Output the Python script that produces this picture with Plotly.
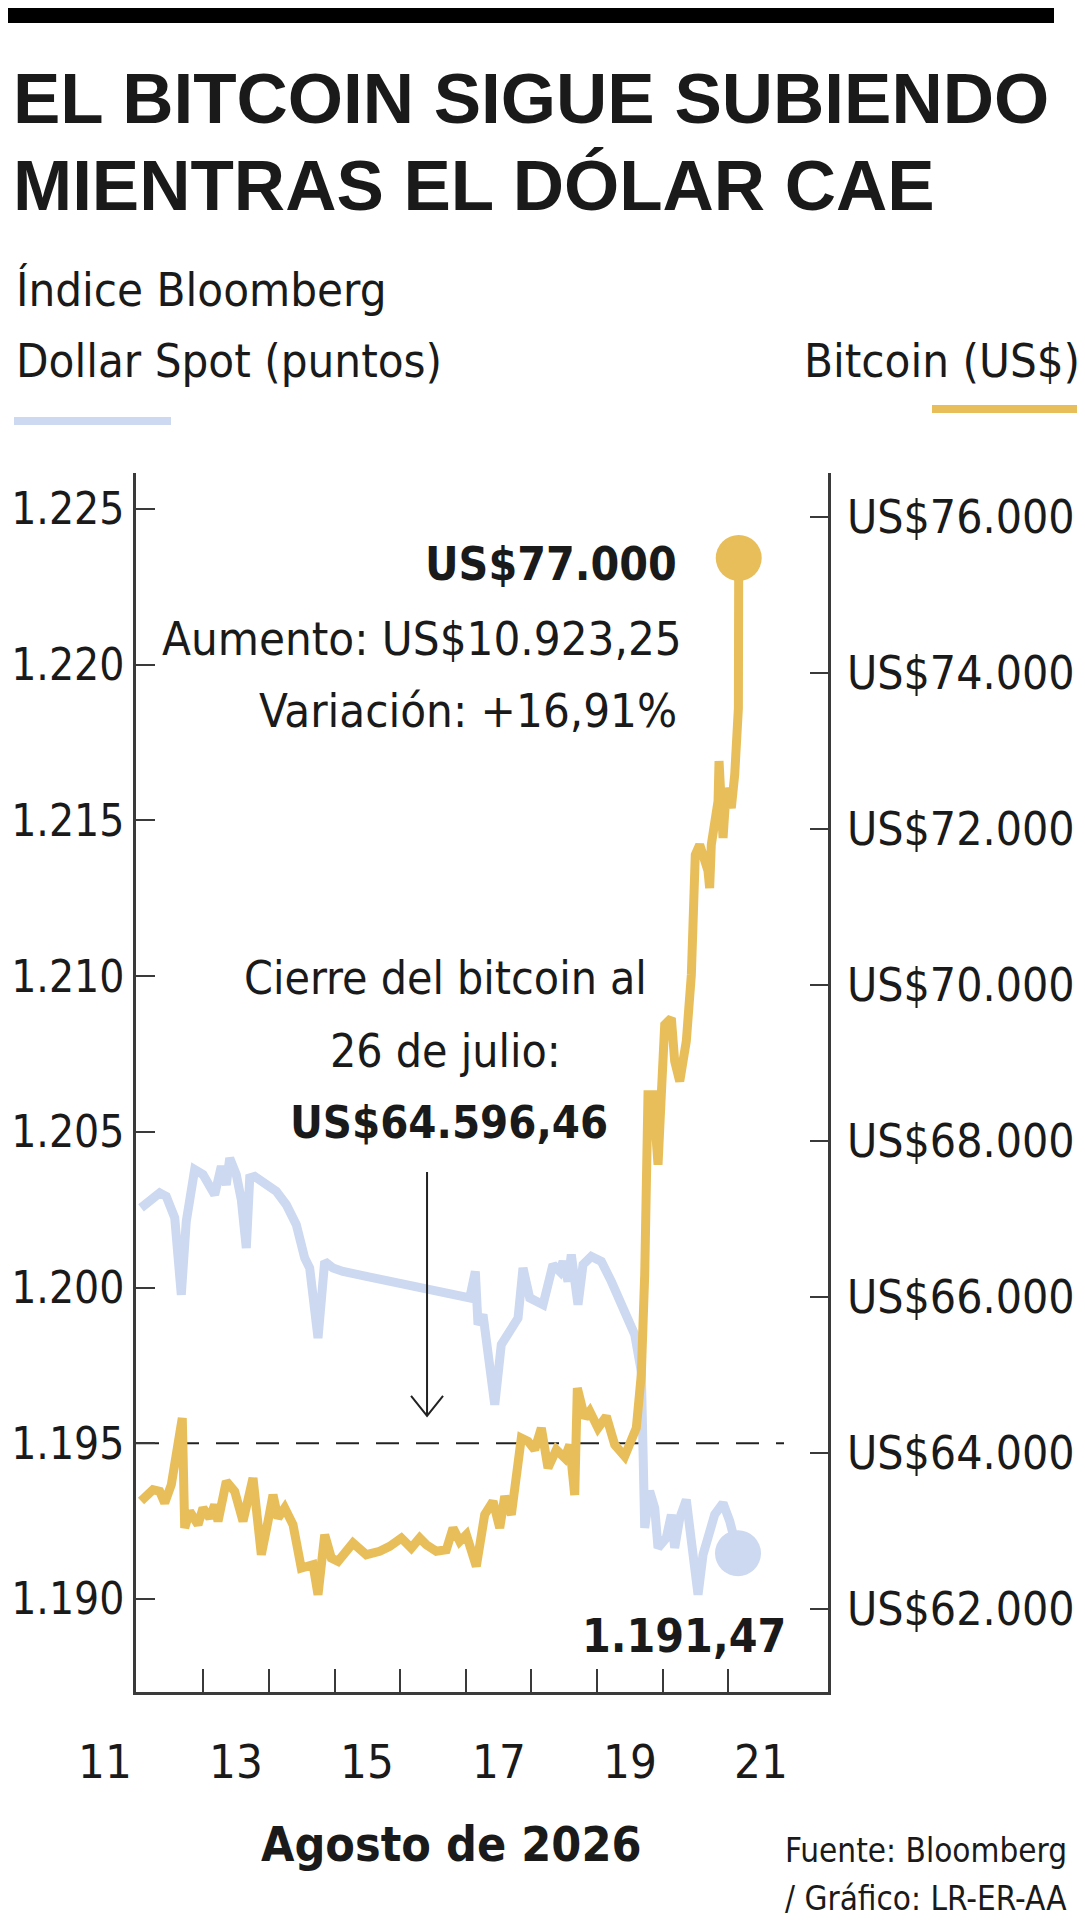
import plotly.graph_objects as go

# Indice Bloomberg Dollar Spot (eje izq) - dias de agosto 2026 en fraccion
dollar_days = [11.549, 11.834, 11.934, 12.063, 12.163, 12.239, 12.367, 12.494, 12.672, 12.773,
               12.849, 12.901, 13.001, 13.078, 13.154, 13.206, 13.282, 13.611, 13.764, 13.916,
               14.044, 14.120, 14.247, 14.349, 14.476, 14.628, 14.983, 16.560, 16.645, 16.686,
               16.762, 16.941, 17.041, 17.296, 17.372, 17.474, 17.677, 17.829, 17.931, 17.982,
               18.058, 18.108, 18.210, 18.287, 18.413, 18.566, 18.718, 18.871, 19.075, 19.175,
               19.201, 19.227, 19.302, 19.380, 19.430, 19.556, 19.633, 19.684, 19.761, 19.861,
               19.938, 20.040, 20.116, 20.192, 20.294, 20.421, 20.523, 20.649]
dollar_vals = [1.20256, 1.20304, 1.20293, 1.20224, 1.19977, 1.20213, 1.20379, 1.20363, 1.20298, 1.20390,
               1.20330, 1.20416, 1.20363, 1.20282, 1.20127, 1.20352, 1.20357, 1.20309, 1.20266, 1.20202,
               1.20095, 1.20063, 1.19838, 1.20084, 1.20063, 1.20052, 1.20036, 1.19967, 1.20052, 1.19881,
               1.19913, 1.19624, 1.19817, 1.19902, 1.20063, 1.19967, 1.19945, 1.20074, 1.20052, 1.20084,
               1.20020, 1.20106, 1.19945, 1.20074, 1.20100, 1.20084, 1.20020, 1.19945, 1.19849, 1.19731,
               1.19346, 1.19228, 1.19347, 1.19292, 1.19164, 1.19196, 1.19271, 1.19164, 1.19260, 1.19319,
               1.19186, 1.19014, 1.19142, 1.19206, 1.19271, 1.19308, 1.19250, 1.19147]

# Bitcoin en US$ (eje der)
btc_days = [11.549, 11.732, 11.834, 11.910, 12.011, 12.063, 12.178, 12.215, 12.291, 12.418,
            12.494, 12.596, 12.672, 12.723, 12.849, 12.977, 13.104, 13.256, 13.383, 13.485,
            13.561, 13.637, 13.739, 13.866, 13.992, 14.171, 14.247, 14.349, 14.450, 14.552,
            14.780, 14.983, 15.187, 15.340, 15.517, 15.669, 15.797, 15.898, 16.050, 16.203,
            16.305, 16.407, 16.508, 16.660, 16.788, 16.915, 17.017, 17.093, 17.194, 17.346,
            17.448, 17.550, 17.651, 17.753, 17.880, 18.008, 18.084, 18.160, 18.200, 18.313,
            18.389, 18.515, 18.642, 18.770, 18.922, 19.099, 19.175, 19.227, 19.267, 19.277,
            19.354, 19.430, 19.480, 19.532, 19.633, 19.684, 19.761, 19.861, 19.938, 19.963,
            19.998, 20.065, 20.192, 20.217, 20.242, 20.345, 20.360, 20.421, 20.471, 20.547,
            20.599, 20.655, 20.665, 20.660]
btc_vals = [63385, 63530, 63509, 63359, 63594, 63850, 64449, 63039, 63253, 63081,
            63295, 63167, 63337, 63124, 63637, 63509, 63124, 63680, 62696, 63124,
            63465, 63167, 63295, 63081, 62526, 62568, 62183, 62953, 62654, 62612,
            62846, 62696, 62740, 62804, 62910, 62782, 62910, 62824, 62740, 62760,
            63039, 62868, 62953, 62547, 63209, 63381, 63039, 63445, 63209, 64192,
            64150, 64042, 64321, 63808, 64042, 63936, 64106, 63462, 64833, 64449,
            64535, 64321, 64471, 64106, 63958, 64321, 65004, 66286, 67568, 68594,
            68594, 67696, 68594, 69491, 69577, 69022, 68766, 69279, 70132, 71158,
            71671, 71799, 71462, 71244, 71799, 72356, 72872, 71885, 72526, 72270,
            72697, 73552, 74834, 75475]

left_ticks = [1.190, 1.195, 1.200, 1.205, 1.210, 1.215, 1.220, 1.225]
left_labels = ["1.190", "1.195", "1.200", "1.205", "1.210", "1.215", "1.220", "1.225"]
right_ticks = [62000, 64000, 66000, 68000, 70000, 72000, 74000, 76000]
right_labels = ["US$62.000", "US$64.000", "US$66.000", "US$68.000",
                "US$70.000", "US$72.000", "US$74.000", "US$76.000"]
day_labels = [11, 13, 15, 17, 19, 21]
day_ticks = [12.5, 13.5, 14.5, 15.5, 16.5, 17.5, 18.5, 19.5, 20.5]
ref_level = 1.195          # linea punteada
ref_arrow_day = 15.909

BLUE = "#cdd9f0"
GOLD = "#e8be5a"
INK = "#1a1a1a"
AXIS = "#3a3a3a"
NARROW = "Liberation Sans Narrow, DejaVu Sans Condensed, sans-serif"
WIDE = "Liberation Sans, Arial, sans-serif"

W, H = 1085, 1920
L, R, T, B = 128, 820, 465, 1684
XR = [11.4726, 22.021]


def px(x):
    return (x - L) / (R - L)


def py(y):
    return (B - y) / (B - T)


def text(s, x, y, size, xanchor="center", bold=False, family=NARROW):
    return dict(text=s, x=px(x), y=py(y), xref="paper", yref="paper",
                xanchor=xanchor, yanchor="middle", showarrow=False,
                font=dict(family=family, size=size, color=INK,
                          weight="bold" if bold else "normal"))


fig = go.Figure()
fig.add_trace(go.Scatter(x=dollar_days, y=dollar_vals, mode="lines",
                         line=dict(color=BLUE, width=9), hoverinfo="skip"))
fig.add_trace(go.Scatter(x=btc_days, y=btc_vals, mode="lines", yaxis="y2",
                         line=dict(color=GOLD, width=9), hoverinfo="skip"))
fig.add_trace(go.Scatter(x=[dollar_days[-1]], y=[dollar_vals[-1]], mode="markers",
                         marker=dict(color=BLUE, size=46), cliponaxis=False, hoverinfo="skip"))
fig.add_trace(go.Scatter(x=[btc_days[-1]], y=[btc_vals[-1]], mode="markers", yaxis="y2",
                         marker=dict(color=GOLD, size=46), cliponaxis=False, hoverinfo="skip"))

annotations = [
    text("EL BITCOIN SIGUE SUBIENDO", 3, 91, 71, "left", True, WIDE),
    text("MIENTRAS EL DÓLAR CAE", 3, 178, 71, "left", True, WIDE),
    text("Índice Bloomberg", 6, 281, 47, "left"),
    text("Dollar Spot (puntos)", 6, 352, 47, "left"),
    text("Bitcoin (US$)", 1074, 352, 47, "right"),
    text("US$77.000", 671, 556, 46, "right", True),
    text("Aumento: US$10.923,25", 676, 630, 47, "right"),
    text("Variación: +16,91%", 671, 702, 47, "right"),
    text("Cierre del bitcoin al", 437, 970, 46),
    text("26 de julio:", 437, 1043, 46),
    text("US$64.596,46", 441, 1114, 45, bold=True),
    text("1.191,47", 780, 1628, 46, "right", True),
    text("Agosto de 2026", 443, 1836, 48, bold=True),
    text("Fuente: Bloomberg", 775, 1842, 33, "left"),
    text("/ Gráfico: LR-ER-AA", 775, 1890, 33, "left"),
]
for d in day_labels:
    annotations.append(dict(text=str(d), x=(d - XR[0]) / (XR[1] - XR[0]), y=py(1753),
                            xref="paper", yref="paper",
                            xanchor="center", yanchor="middle", showarrow=False,
                            font=dict(family=NARROW, size=47, color=INK)))

shapes = [
    # barra negra superior
    dict(type="rect", xref="paper", yref="paper", x0=px(0), x1=px(1046), y0=py(0), y1=py(15),
         fillcolor="black", line=dict(width=0)),
    # muestras de leyenda
    dict(type="rect", xref="paper", yref="paper", x0=px(6), x1=px(163), y0=py(409), y1=py(417),
         fillcolor=BLUE, line=dict(width=0)),
    dict(type="rect", xref="paper", yref="paper", x0=px(924), x1=px(1080), y0=py(397), y1=py(405),
         fillcolor=GOLD, line=dict(width=0)),
    # nivel de referencia
    dict(type="line", xref="paper", yref="y", x0=0, x1=px(776), y0=ref_level, y1=ref_level,
         line=dict(color="#222", width=2, dash="23px,17px"), layer="below"),
    # flecha
    dict(type="path", xref="x", yref="y", xsizemode="pixel", ysizemode="pixel",
         xanchor=ref_arrow_day, yanchor=1.19588,
         path="M0,244 L0,0 M-16,20 L0,0 L16,20", line=dict(color="#222", width=2)),
]

fig.update_layout(
    width=W, height=H,
    margin=dict(l=L, r=W - R, t=T, b=H - B, pad=0),
    paper_bgcolor="white", plot_bgcolor="white",
    showlegend=False,
    annotations=annotations,
    shapes=shapes,
    xaxis=dict(range=XR, showgrid=False, zeroline=False, automargin=False,
               showline=True, linecolor=AXIS, linewidth=2.5,
               ticks="inside", ticklen=23, tickwidth=2, tickcolor=AXIS,
               tickvals=day_ticks, showticklabels=False),
    yaxis=dict(range=[1.187013, 1.226159], showgrid=False, zeroline=False, automargin=False,
               showline=True, linecolor=AXIS, linewidth=2.5,
               ticks="inside", ticklen=19, tickwidth=2, tickcolor=AXIS,
               tickvals=left_ticks, ticktext=left_labels, ticklabelstandoff=0,
               tickfont=dict(family=NARROW, size=44, color=INK)),
    yaxis2=dict(range=[60936, 76565], overlaying="y", side="right", anchor="x",
                showgrid=False, zeroline=False, automargin=False,
                showline=True, linecolor=AXIS, linewidth=2.5,
                ticks="inside", ticklen=18, tickwidth=2, tickcolor=AXIS,
                tickvals=right_ticks, ticktext=right_labels, ticklabelstandoff=7,
                tickfont=dict(family=NARROW, size=46, color=INK)),
)

fig.write_html("out.html")
